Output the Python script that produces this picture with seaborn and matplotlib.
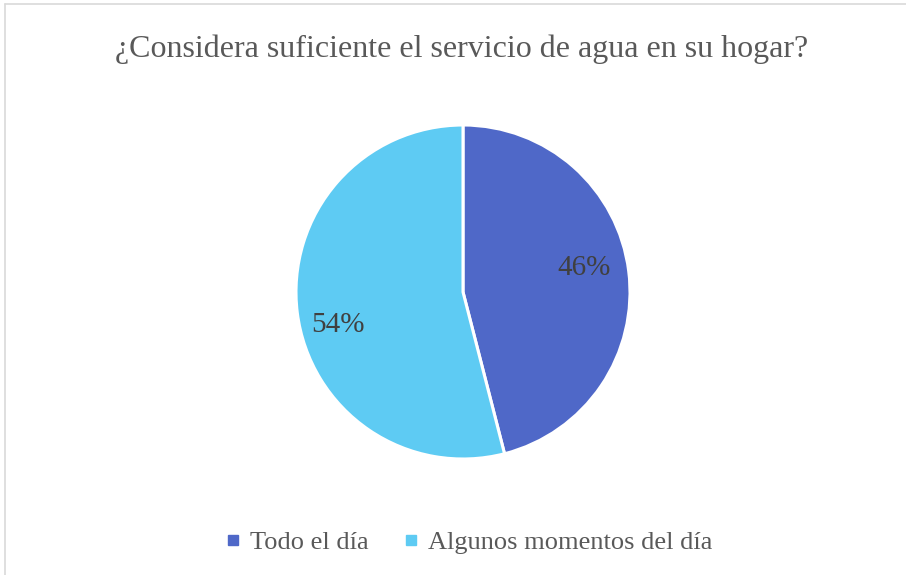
import matplotlib
matplotlib.use("Agg")
import matplotlib.pyplot as plt
import seaborn as sns
from matplotlib.lines import Line2D

# data
categories = ["Todo el día", "Algunos momentos del día"]
shares = [46, 54]
colors = ["#4F68C8", "#5ECBF3"]
title = "¿Considera suficiente el servicio de agua en su hogar?"

sns.set_style("white")
plt.rcParams["font.family"] = ["Liberation Serif", "DejaVu Serif"]

fig = plt.figure(figsize=(9.06, 5.75), dpi=100)
fig.patch.set_facecolor("white")

# chart border (top and left edges visible)
fig.add_artist(Line2D([5 / 906, 1], [1 - 4 / 575, 1 - 4 / 575], color="#D9D9D9", lw=1.2,
                      transform=fig.transFigure))
fig.add_artist(Line2D([5 / 906, 5 / 906], [0, 1 - 4 / 575], color="#D9D9D9", lw=1.2,
                      transform=fig.transFigure))

ax = fig.add_axes([296 / 906, 116 / 575, 334 / 906, 334 / 575])
wedges, texts, autotexts = ax.pie(
    shares, colors=colors, startangle=90, counterclock=False,
    autopct="%1.0f%%", pctdistance=0.75, radius=1,
    wedgeprops=dict(edgecolor="white", linewidth=2.2),
    textprops=dict(color="#404040", fontsize=21),
)
# label placement as in the reference (Excel style offsets)
label_pos = [(0.725, 0.144), (-0.749, -0.198)]
for t, p in zip(autotexts, label_pos):
    t.set_position(p)
ax.set_xlim(-1.0, 1.0)
ax.set_ylim(-1.0, 1.0)
ax.set_aspect("equal")
ax.axis("off")

fig.text(462 / 906, 1 - 49 / 575, title, ha="center", va="center",
         fontsize=23, color="#595959")

handles = [Line2D([], [], marker="s", linestyle="", markersize=7.5,
                  markerfacecolor=c, markeredgecolor=c) for c in colors]
leg = fig.legend(handles, categories, loc="center", bbox_to_anchor=(469 / 906, 1 - 542 / 575),
                 ncol=2, frameon=False, fontsize=19, handlelength=0.6,
                 handletextpad=0.35, columnspacing=1.3)
for t in leg.get_texts():
    t.set_color("#595959")

fig.savefig("out.png", dpi=100)
